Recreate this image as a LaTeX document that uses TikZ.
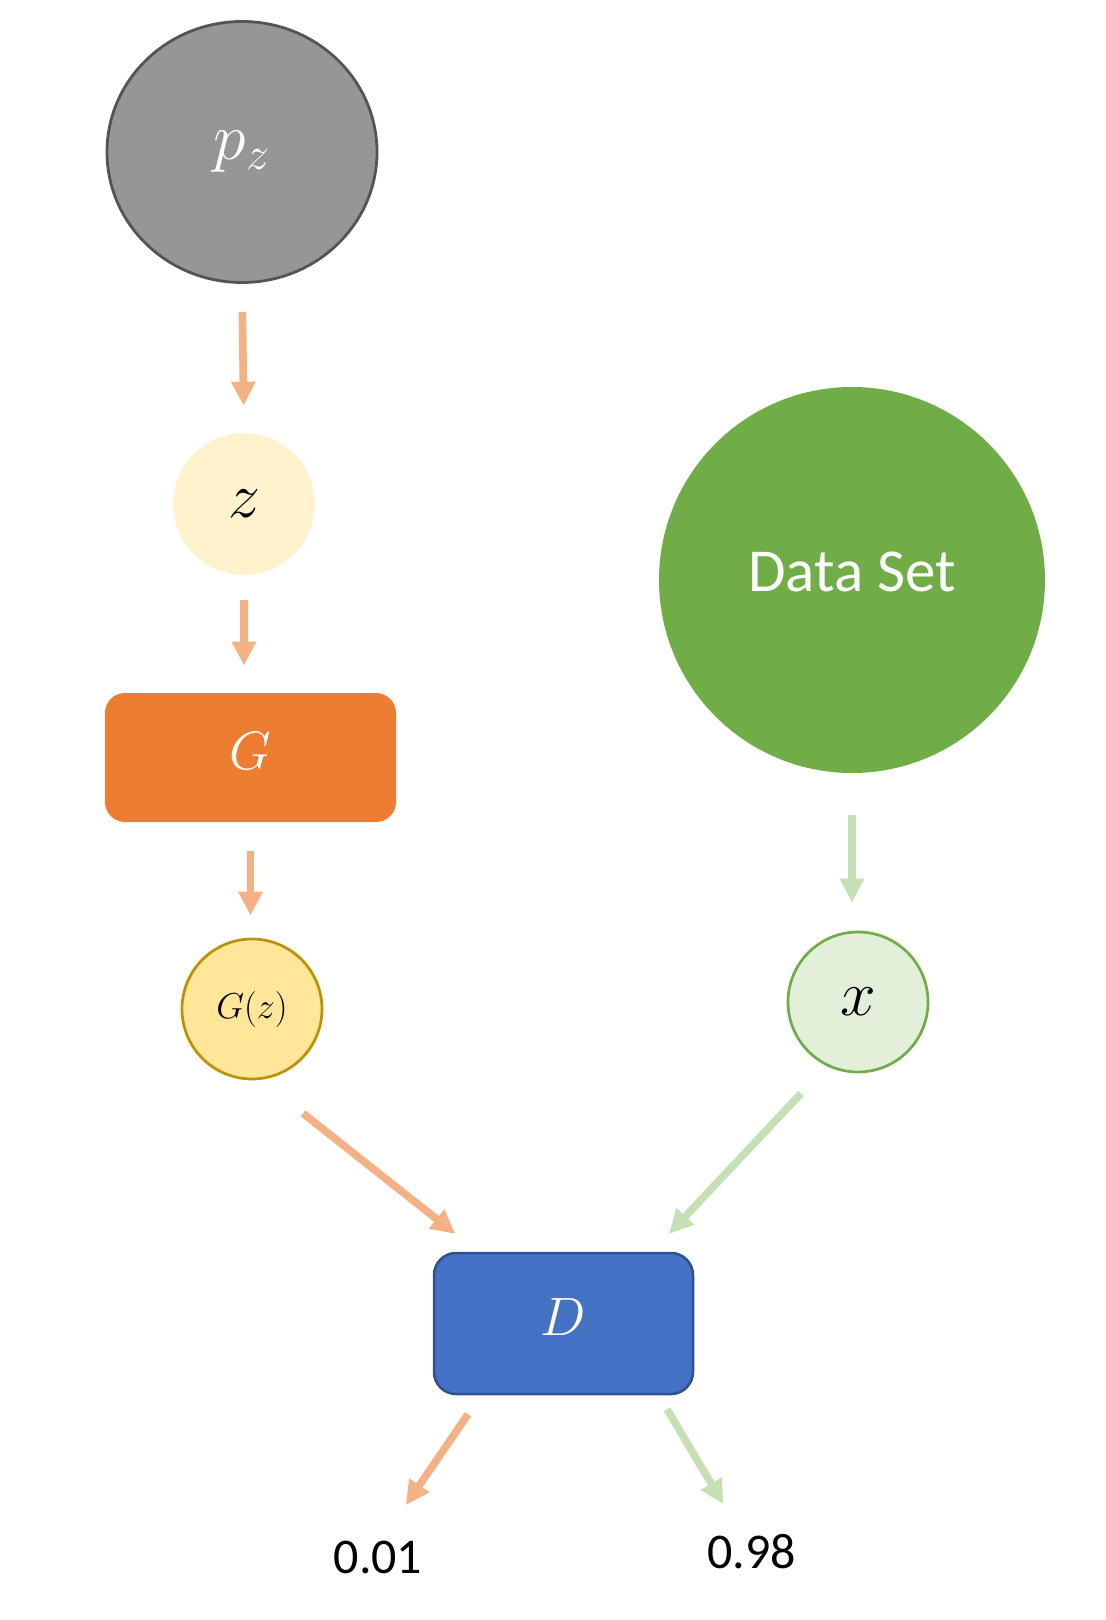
\RequirePackage{fix-cm}
\documentclass[tikz,border=0pt]{standalone}
\usepackage{fontspec}
\setsansfont{Carlito}
\usetikzlibrary{arrows.meta, shapes.geometric}

\definecolor{pzfill}{HTML}{969696}
\definecolor{pzline}{HTML}{545454}
\definecolor{zfill}{HTML}{FFF2CC}
\definecolor{gfill}{HTML}{ED7D31}
\definecolor{gzfill}{HTML}{FFE699}
\definecolor{gzline}{HTML}{BF9000}
\definecolor{dsfill}{HTML}{70AD47}
\definecolor{xfill}{HTML}{E2F0D9}
\definecolor{dfill}{HTML}{4472C4}
\definecolor{dline}{HTML}{2F528F}
\definecolor{fakearrow}{HTML}{F4B183}
\definecolor{realarrow}{HTML}{C5E0B4}

\begin{document}
\begin{tikzpicture}[x=0.5pt, y=-0.5pt,
    dot/.style={circle, inner sep=0pt, minimum size=70pt, line width=1.35pt},
    box/.style={rectangle, rounded corners=10pt, inner sep=0pt},
    arr/.style={-{Triangle[width=11.5pt, length=12pt]}, line width=3.8pt},
    num/.style={inner sep=0pt, font=\sffamily\fontsize{25}{30}\selectfont}]
  \useasboundingbox (0,0) rectangle (1106,1620);

  \node (pz) [ellipse, inner sep=0pt, minimum width=135pt, minimum height=130.5pt,
    fill=pzfill, draw=pzline, line width=1.4pt, text=white,
    font=\fontsize{33}{38}\selectfont] at (242,152) {\raisebox{2pt}{$p_z$}};
  \node (z) [dot, minimum size=71pt, fill=zfill,
    font=\fontsize{32}{36}\selectfont] at (244,504) {$z$};
  \node (G) [box, minimum width=145.5pt, minimum height=64.5pt, fill=gfill,
    text=white, font=\fontsize{27}{32}\selectfont] at (250.5,757.5) {\raisebox{6.5pt}{$G$}};
  \node (Gz) [dot, fill=gzfill, draw=gzline,
    font=\fontsize{18}{22}\selectfont] at (252,1009) {$G(z)$};
  \node (DS) [dot, minimum size=193pt, fill=dsfill, text=white,
    font=\sffamily\fontsize{30.5}{36}\selectfont] at (852,580) {\raisebox{8.5pt}{Data Set}};
  \node (x) [dot, fill=xfill, draw=dsfill,
    font=\fontsize{32}{36}\selectfont] at (858,1002) {$x$};
  \node (D) [box, rounded corners=11pt, minimum width=129.5pt, minimum height=70.5pt,
    fill=dfill, draw=dline, line width=1.25pt, text=white,
    font=\fontsize{27}{32}\selectfont] at (563.5,1323.5) {\raisebox{6.5pt}{$D$}};
  \node (o1) [num] at (378,1557) {0.01};
  \node (o2) [num] at (751.5,1552) {0.98};

  % generator side
  \path [arr, color=fakearrow]
    (pz.south) edge [shorten <=14pt, shorten >=13pt] (z.north)
    (z.south) edge [shorten <=12pt, shorten >=13.5pt] (z.south |- G.north)
    (G.south) edge [shorten <=14.5pt, shorten >=11pt] (G.south |- Gz.north)
    (Gz.-83) edge [shorten <=27pt, shorten >=14.4pt] (D.140)
    (D.221) edge [shorten <=11.5pt, shorten >=21.25pt] (o1.77);

  % real data side
  \path [arr, color=realarrow]
    (DS.south) edge [shorten <=20.5pt, shorten >=14pt] (DS.south |- x.north)
    (x.-116.6) edge [shorten <=18.75pt, shorten >=12.3pt] (D.39)
    (D.-37.5) edge [shorten <=8.2pt, shorten >=17.5pt] (o2.120);
\end{tikzpicture}
\end{document}
